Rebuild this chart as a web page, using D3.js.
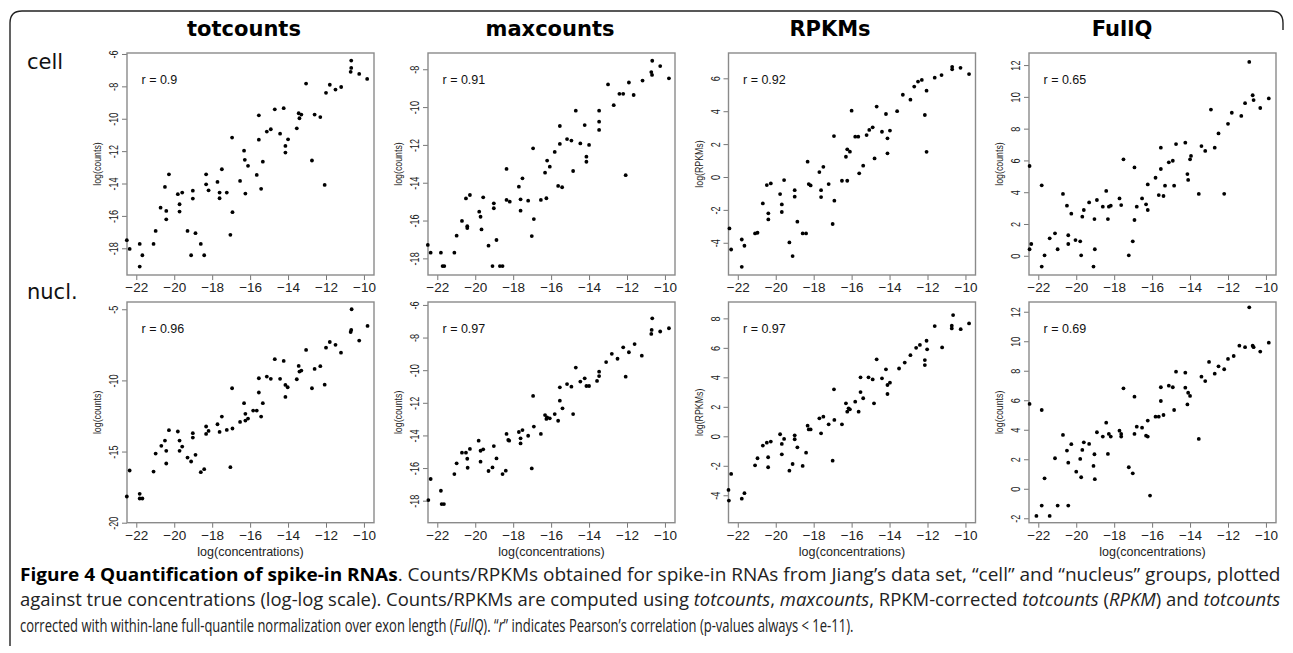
<!DOCTYPE html>
<html>
<head>
<meta charset="utf-8">
<script src="https://cdn.jsdelivr.net/npm/d3@7"></script>
<style>
  body { margin: 0; background: #fff; }
  svg { display: block; }
</style>
</head>
<body>
<svg width="1293" height="653"></svg>
<script>
// column titles, row names, r values
const titles = ["totcounts", "maxcounts", "RPKMs", "FullQ"];
const rowNames = ["cell", "nucl."];
const rValues = [[0.9, 0.91, 0.92, 0.65], [0.96, 0.97, 0.97, 0.69]];
const yLabels = ["log(counts)", "log(counts)", "log(RPKMs)", "log(counts)"];
const xTicks = [-22, -20, -18, -16, -14, -12, -10];

// y tick values per panel (row 1 then row 2)
const yTicksCell = [
  [-18, -16, -14, -12, -10, -8, -6],
  [-18, -16, -14, -12, -10, -8],
  [-4, -2, 0, 2, 4, 6],
  [0, 2, 4, 6, 8, 10, 12]
];
const yTicksNucl = [
  [-20, -15, -10, -5],
  [-18, -16, -14, -12, -10, -8, -6],
  [-4, -2, 0, 2, 4, 6, 8],
  [-2, 0, 2, 4, 6, 8, 10, 12]
];
const yRangeCell = [[-19.65, -5.94], [-18.88, -7.14], [-5.96, 7.54], [-1.21, 12.76]];
const yRangeNucl = [[-20.0, -4.49], [-19.35, -5.82], [-5.86, 9.11], [-2.3, 12.66]];
const xRange = [-22.49, -9.47];

// points: [log(concentration), value]
const cellTot = [[-22.5,-17.5],[-22.35,-18.04],[-21.82,-17.73],[-21.68,-18.43],[-21.82,-19.13],[-21.09,-17.73],[-20.98,-16.93],[-20.72,-15.49],[-20.49,-14.21],[-20.42,-15.69],[-20.42,-16.21],[-20.28,-13.43],[-19.81,-14.66],[-19.72,-15.28],[-19.72,-15.73],[-19.58,-14.56],[-19.3,-16.93],[-19.11,-18.43],[-19.02,-14.44],[-19.02,-14.93],[-18.88,-17.07],[-18.6,-17.73],[-18.42,-18.43],[-18.32,-13.43],[-18.32,-14.05],[-18.19,-14.42],[-17.72,-13.9],[-17.61,-14.56],[-17.61,-14.91],[-17.49,-13.12],[-17.23,-14.56],[-17.04,-17.17],[-16.95,-11.16],[-16.93,-15.77],[-16.53,-13.84],[-16.32,-11.97],[-16.28,-12.54],[-16.25,-14.62],[-16.11,-12.91],[-15.65,-13.47],[-15.54,-9.79],[-15.54,-11.29],[-15.42,-14.33],[-15.33,-12.65],[-15.12,-10.79],[-14.91,-10.65],[-14.7,-9.42],[-14.42,-10.92],[-14.23,-9.35],[-14.14,-12.09],[-14.14,-11.68],[-14.0,-11.27],[-13.54,-10.59],[-13.44,-9.66],[-13.4,-9.97],[-13.3,-9.74],[-13.05,-7.83],[-12.74,-12.58],[-12.6,-9.74],[-12.3,-9.9],[-12.07,-14.09],[-12.0,-8.4],[-11.8,-7.9],[-11.5,-8.2],[-11.2,-8.04],[-10.67,-6.41],[-10.67,-6.86],[-10.7,-7.1],[-10.25,-7.23],[-9.83,-7.54]];
const cellMax = [[-22.5,-17.29],[-22.35,-17.7],[-21.81,-17.7],[-21.72,-18.41],[-21.63,-18.41],[-21.1,-17.7],[-20.98,-16.8],[-20.7,-16.02],[-20.49,-14.83],[-20.42,-16.4],[-20.42,-16.3],[-20.28,-14.65],[-19.79,-15.53],[-19.72,-15.8],[-19.67,-16.47],[-19.58,-14.77],[-19.3,-17.33],[-19.09,-18.41],[-18.7,-18.41],[-18.56,-18.41],[-19.02,-15.09],[-19.02,-15.35],[-18.88,-17.03],[-18.35,-13.27],[-18.35,-14.91],[-18.18,-15.0],[-17.7,-14.21],[-17.61,-14.88],[-17.61,-15.48],[-17.51,-13.77],[-17.21,-14.95],[-17.02,-16.82],[-16.95,-12.18],[-16.91,-15.92],[-16.54,-14.91],[-16.32,-13.47],[-16.25,-14.82],[-16.21,-12.83],[-16.07,-13.15],[-15.81,-12.37],[-15.63,-14.17],[-15.42,-14.24],[-15.54,-11.95],[-15.54,-11.0],[-15.16,-11.69],[-14.93,-11.77],[-14.84,-13.38],[-14.7,-10.19],[-14.46,-11.92],[-14.23,-10.95],[-14.14,-12.62],[-14.14,-12.89],[-14.0,-12.0],[-13.47,-10.19],[-13.47,-10.77],[-13.47,-11.21],[-13.0,-8.8],[-12.7,-9.9],[-12.4,-9.3],[-12.2,-9.3],[-12.07,-13.6],[-11.9,-8.7],[-11.65,-9.36],[-11.18,-8.6],[-10.72,-8.15],[-10.68,-8.3],[-10.67,-7.55],[-10.25,-7.83],[-9.79,-8.48]];
const cellRpkm = [[-22.44,-3.13],[-22.35,-4.41],[-21.79,-3.8],[-21.65,-4.18],[-21.79,-5.46],[-21.09,-3.43],[-20.96,-3.39],[-20.68,-1.61],[-20.47,-0.49],[-20.26,-0.39],[-20.39,-2.21],[-20.39,-2.58],[-19.77,-1.04],[-19.68,-1.67],[-19.68,-2.13],[-19.56,-0.19],[-19.28,-3.98],[-19.11,-4.81],[-19.0,-0.8],[-19.0,-1.2],[-18.86,-2.72],[-18.58,-3.43],[-18.4,-3.43],[-18.32,0.93],[-18.26,-0.43],[-18.16,-0.51],[-17.7,0.3],[-17.61,-0.8],[-17.61,-1.22],[-17.49,0.62],[-17.21,-0.43],[-17.0,-2.86],[-16.93,2.49],[-16.91,-1.44],[-16.51,-0.23],[-16.23,-0.23],[-16.3,1.23],[-16.23,1.68],[-16.09,1.54],[-15.81,2.45],[-15.65,2.45],[-15.6,0.22],[-16.0,4.03],[-15.39,0.69],[-15.21,2.55],[-15.07,2.86],[-14.89,3.02],[-14.68,4.28],[-14.79,1.13],[-14.4,2.75],[-14.19,3.83],[-14.11,2.35],[-14.11,1.44],[-13.98,2.82],[-13.6,4.0],[-13.3,5.0],[-12.9,4.7],[-12.7,5.5],[-12.5,5.8],[-12.3,5.9],[-12.14,3.77],[-12.05,5.25],[-12.05,1.53],[-11.62,6.04],[-11.26,6.2],[-10.7,6.7],[-10.7,6.55],[-10.26,6.64],[-9.81,6.26]];
const cellFullQ = [[-22.46,0.41],[-22.37,0.74],[-22.46,5.65],[-21.82,4.43],[-21.82,-0.68],[-21.67,0.03],[-21.4,1.1],[-21.12,1.41],[-20.98,0.41],[-20.7,3.89],[-20.49,3.15],[-20.42,1.29],[-20.42,0.74],[-20.26,2.65],[-20.04,0.99],[-19.79,0.91],[-19.74,0.03],[-19.68,2.46],[-19.6,2.88],[-19.32,3.36],[-19.09,-0.68],[-19.04,2.31],[-19.02,0.41],[-18.91,3.51],[-18.6,3.09],[-18.42,4.08],[-18.33,2.31],[-18.28,3.09],[-18.18,3.15],[-17.72,3.61],[-17.63,3.19],[-17.51,6.07],[-17.23,0.03],[-17.02,0.91],[-16.93,2.25],[-16.93,5.56],[-16.81,3.09],[-16.53,3.61],[-16.32,3.24],[-16.23,2.88],[-16.23,4.49],[-15.82,4.91],[-15.65,3.82],[-15.54,6.8],[-15.54,5.46],[-15.4,3.76],[-15.32,4.41],[-15.12,5.88],[-14.91,5.98],[-14.74,7.03],[-14.84,4.41],[-14.25,7.12],[-13.95,6.28],[-14.14,5.14],[-14.1,4.77],[-14.0,6.07],[-13.54,3.89],[-13.4,6.9],[-13.2,6.6],[-12.9,9.2],[-12.7,6.8],[-12.5,7.7],[-12.2,3.9],[-12.0,8.3],[-11.8,9.0],[-11.3,8.8],[-11.1,9.6],[-10.88,12.2],[-10.7,10.1],[-10.65,9.8],[-10.3,9.3],[-9.85,9.9]];
const nuclTot = [[-22.5,-18.16],[-22.35,-16.33],[-21.82,-17.97],[-21.82,-18.3],[-21.68,-18.3],[-21.09,-16.41],[-20.98,-15.14],[-20.68,-14.6],[-20.49,-14.23],[-20.42,-14.95],[-20.42,-15.84],[-20.28,-13.5],[-19.81,-13.59],[-19.72,-14.23],[-19.72,-14.95],[-19.58,-14.65],[-19.3,-15.42],[-19.11,-15.7],[-19.02,-13.71],[-19.02,-14.02],[-18.88,-15.23],[-18.6,-16.45],[-18.42,-16.24],[-18.32,-13.24],[-18.32,-13.76],[-18.19,-13.55],[-17.72,-13.08],[-17.61,-13.62],[-17.49,-12.54],[-17.23,-13.48],[-17.04,-16.1],[-16.95,-10.55],[-16.93,-13.38],[-16.53,-12.92],[-16.32,-11.6],[-16.25,-12.35],[-16.25,-12.82],[-16.11,-12.68],[-15.84,-12.12],[-15.65,-12.12],[-15.54,-9.85],[-15.54,-10.85],[-15.42,-12.54],[-15.33,-11.6],[-15.12,-9.73],[-14.91,-9.89],[-14.7,-8.51],[-14.42,-9.89],[-14.23,-8.63],[-14.14,-10.32],[-14.02,-10.48],[-14.14,-11.16],[-13.54,-9.92],[-13.44,-8.98],[-13.4,-9.38],[-13.3,-9.31],[-13.05,-7.86],[-12.74,-10.55],[-12.6,-9.19],[-12.3,-9.0],[-12.07,-10.3],[-12.0,-7.7],[-11.8,-7.3],[-11.5,-7.5],[-11.21,-8.05],[-10.65,-5.0],[-10.67,-6.45],[-10.7,-6.6],[-10.25,-7.2],[-9.81,-6.17]];
const nuclMax = [[-22.47,-17.96],[-22.35,-16.67],[-21.81,-17.39],[-21.77,-18.21],[-21.65,-18.21],[-21.1,-16.37],[-20.98,-15.71],[-20.7,-15.06],[-20.49,-15.06],[-20.42,-15.43],[-20.4,-15.98],[-20.28,-14.83],[-19.82,-14.32],[-19.72,-14.94],[-19.58,-14.85],[-19.72,-15.61],[-19.3,-16.18],[-19.09,-15.96],[-19.02,-14.65],[-18.88,-15.41],[-18.56,-16.37],[-18.39,-16.16],[-18.35,-13.91],[-18.26,-14.28],[-18.21,-14.32],[-17.7,-13.79],[-17.61,-14.18],[-17.61,-14.49],[-17.51,-13.67],[-17.21,-14.02],[-17.02,-16.02],[-16.95,-11.58],[-16.91,-13.46],[-16.54,-13.91],[-16.32,-12.75],[-16.21,-12.89],[-16.25,-12.99],[-16.07,-12.95],[-15.81,-12.69],[-15.63,-13.1],[-15.54,-11.87],[-15.54,-11.05],[-15.4,-12.34],[-15.16,-10.85],[-14.93,-11.01],[-14.84,-12.69],[-14.7,-9.84],[-14.46,-10.7],[-14.23,-10.5],[-14.14,-10.97],[-14.0,-10.97],[-13.47,-10.09],[-13.47,-10.36],[-13.58,-10.66],[-13.1,-9.5],[-12.8,-9.0],[-12.5,-9.3],[-12.2,-8.6],[-12.07,-10.4],[-11.9,-8.9],[-11.6,-8.4],[-11.22,-9.11],[-10.67,-6.82],[-10.7,-7.53],[-10.72,-7.78],[-10.25,-7.63],[-9.79,-7.43]];
const nuclRpkm = [[-22.49,-3.64],[-22.47,-4.36],[-22.35,-2.55],[-21.79,-4.23],[-21.65,-3.86],[-21.09,-1.97],[-20.96,-1.49],[-20.68,-0.63],[-20.47,-0.43],[-20.26,-0.36],[-20.4,-1.42],[-20.4,-2.1],[-19.77,0.14],[-19.68,-0.52],[-19.68,-1.22],[-19.56,-0.18],[-19.28,-2.33],[-19.11,-1.88],[-19.0,0.07],[-19.0,-0.2],[-18.86,-0.75],[-18.58,-2.01],[-18.4,-1.11],[-18.32,0.72],[-18.26,0.47],[-18.16,0.47],[-17.7,1.22],[-17.61,0.2],[-17.49,1.33],[-17.21,0.81],[-17.0,-1.65],[-16.93,3.19],[-16.91,1.11],[-16.51,0.81],[-16.3,2.24],[-16.23,1.67],[-16.16,1.9],[-16.09,1.83],[-15.81,2.35],[-15.63,1.67],[-15.53,3.0],[-15.53,4.0],[-15.39,2.58],[-15.11,4.0],[-14.89,3.86],[-14.82,2.24],[-14.68,5.22],[-14.4,3.93],[-14.19,4.54],[-14.11,3.48],[-14.11,2.87],[-13.98,3.64],[-13.5,4.6],[-13.2,5.0],[-12.9,5.5],[-12.6,6.0],[-12.4,6.2],[-12.14,5.17],[-12.14,4.83],[-12.05,6.48],[-12.02,5.9],[-11.62,7.48],[-11.23,6.03],[-10.65,8.22],[-10.72,7.5],[-10.72,7.32],[-10.25,7.27],[-9.81,7.66]];
const nuclFullQ = [[-22.46,5.75],[-22.1,-1.84],[-21.82,5.34],[-21.82,-1.14],[-21.67,0.71],[-21.4,-1.84],[-21.12,2.07],[-20.98,-1.14],[-20.7,3.65],[-20.49,2.59],[-20.42,1.77],[-20.42,-1.14],[-20.26,3.02],[-20.0,1.16],[-19.79,2.02],[-19.74,0.78],[-19.68,2.63],[-19.6,3.15],[-19.32,3.04],[-19.09,1.55],[-19.04,2.34],[-19.02,0.65],[-18.91,3.83],[-18.6,3.54],[-18.42,4.48],[-18.33,2.36],[-18.28,3.72],[-18.18,3.54],[-17.72,3.94],[-17.63,3.54],[-17.63,3.72],[-17.51,6.81],[-17.23,1.46],[-17.02,1.05],[-16.93,6.24],[-16.93,3.72],[-16.81,4.21],[-16.53,4.14],[-16.32,3.6],[-16.23,3.54],[-16.23,4.62],[-16.11,-0.46],[-15.82,4.89],[-15.65,4.89],[-15.54,5.95],[-15.54,6.88],[-15.4,5.0],[-15.12,6.99],[-14.91,6.88],[-14.84,5.34],[-14.74,7.94],[-14.25,7.87],[-14.25,6.85],[-14.1,6.51],[-14.0,6.29],[-14.14,5.72],[-13.54,3.38],[-13.4,7.6],[-13.2,7.3],[-13.0,8.6],[-12.7,7.8],[-12.5,8.3],[-12.2,8.1],[-12.0,8.8],[-11.7,9.0],[-11.4,9.7],[-11.1,9.6],[-10.88,12.3],[-10.7,9.7],[-10.65,9.6],[-10.3,9.3],[-9.85,9.9]];

const rowData = [[cellTot, cellMax, cellRpkm, cellFullQ], [nuclTot, nuclMax, nuclRpkm, nuclFullQ]];
const rowTicks = [yTicksCell, yTicksNucl];
const rowRanges = [yRangeCell, yRangeNucl];

const svg = d3.select("svg");

// layout
const colLeft = [127, 428, 728.5, 1029];
const boxW = 247;
const rowTop = [53, 302];
const rowBottom = [275, 522.7];
const titleX = [244, 550, 830, 1122];

// outer frame
svg.append("path")
    .attr("d", "M10,646 V23 Q10,11 22,11 H1271 Q1283,11 1283,23 V30")
    .attr("fill", "none")
    .attr("stroke", "#222")
    .attr("stroke-width", 1.4)

titles.forEach((t, i) => {
  svg.append("text")
      .attr("x", titleX[i])
      .attr("y", 36)
      .attr("text-anchor", "middle")
      .style("font-family", "DejaVu Sans")
      .style("font-weight", "bold")
      .style("font-size", "21px")
      .text(t)
});

rowNames.forEach((t, r) => {
  svg.append("text")
      .attr("x", 27)
      .attr("y", [69, 299][r])
      .style("font-family", "DejaVu Sans")
      .style("font-size", "21px")
      .style("fill", "#111")
      .text(t)
});

rowData.forEach((row, r) => {
  row.forEach((pts, c) => {
    const x0 = colLeft[c];
    const y0 = rowTop[r];
    const y1 = rowBottom[r];

    const xScale = d3.scaleLinear().domain(xRange).range([x0, x0 + boxW]);
    const yScale = d3.scaleLinear().domain(rowRanges[r][c]).range([y1, y0]);

    const g = svg.append("g");

    // y axis, labels turned like R's default
    const yAxis = d3.axisLeft(yScale).tickValues(rowTicks[r][c]).tickSize(5).tickFormat(d => d);
    const ya = g.append("g")
        .attr("transform", `translate(${x0},0)`)
        .call(yAxis);
    ya.select(".domain").remove();
    ya.selectAll("line").attr("stroke", "#777");
    ya.selectAll("text")
        .attr("x", 0)
        .attr("y", -9)
        .attr("dy", 0)
        .attr("text-anchor", "middle")
        .attr("transform", "rotate(-90) scale(0.7,1)")
        .style("font-family", "Liberation Sans, Arial")
        .style("font-size", "13px")
        .style("fill", "#222");

    // x axis
    const xAxis = d3.axisBottom(xScale).tickValues(xTicks).tickSize(5).tickPadding(2.5);
    const xa = g.append("g")
        .attr("transform", `translate(0,${y1})`)
        .call(xAxis);
    xa.select(".domain").remove();
    xa.selectAll("line").attr("stroke", "#777");
    xa.selectAll("text")
        .style("font-family", "Liberation Sans, Arial")
        .style("font-size", "13.5px")
        .style("fill", "#222");

    // box
    g.append("rect")
        .attr("x", x0)
        .attr("y", y0)
        .attr("width", boxW)
        .attr("height", y1 - y0)
        .attr("fill", "none")
        .attr("stroke", "#8a8a8a")
        .attr("stroke-width", 1.4);

    // y label
    g.append("text")
        .attr("transform", `translate(${x0 - 26},${(y0 + y1) / 2}) rotate(-90) scale(0.8,1)`)
        .attr("text-anchor", "middle")
        .style("font-family", "Liberation Sans, Arial")
        .style("font-size", "11px")
        .style("fill", "#222")
        .text(yLabels[c]);

    if (r === 1) {
      g.append("text")
          .attr("x", x0 + boxW / 2)
          .attr("y", 556)
          .attr("text-anchor", "middle")
          .style("font-family", "Liberation Sans, Arial")
          .style("font-size", "12.5px")
          .style("fill", "#222")
          .text("log(concentrations)");
    }

    // r label
    g.append("text")
        .attr("x", x0 + 14.5)
        .attr("y", y0 + 31)
        .style("font-family", "Liberation Sans, Arial")
        .style("font-size", "12.5px")
        .style("fill", "#111")
        .text("r = " + rValues[r][c]);

    // points
    g.append("g")
        .selectAll("circle")
        .data(pts)
        .join("circle")
        .attr("cx", d => xScale(d[0]))
        .attr("cy", d => yScale(d[1]))
        .attr("r", 1.9)
        .attr("fill", "#000");
  });
});

// caption, three lines fitted to the widths seen in the figure
const captionLines = [
  [["Figure 4 Quantification of spike-in RNAs", "b"], [". Counts/RPKMs obtained for spike-in RNAs from Jiang\u2019s data set, \u201Ccell\u201D and \u201Cnucleus\u201D groups, plotted", ""]],
  [["against true concentrations (log-log scale). Counts/RPKMs are computed using ", ""], ["totcounts", "i"], [", ", ""], ["maxcounts", "i"], [", RPKM-corrected ", ""], ["totcounts", "i"], [" (", ""], ["RPKM", "i"], [") and ", ""], ["totcounts", "i"]],
  [["corrected with within-lane full-quantile normalization over exon length (", ""], ["FullQ", "i"], ["). \u201C", ""], ["r", "i"], ["\u201D indicates Pearson\u2019s correlation (p-values always < 1e-11).", ""]]
];
const captionWidth = [1261, 1261, 834];
const captionY = [581, 606, 632];

captionLines.forEach((parts, i) => {
  const t = svg.append("text")
      .style("font-family", "Open Sans")
      .style("font-size", "17.5px")
      .style("fill", "#222");
  parts.forEach(p => {
    t.append("tspan")
        .style("font-weight", p[1] === "b" ? "bold" : "normal")
        .style("font-style", p[1] === "i" ? "italic" : "normal")
        .style("fill", p[1] === "b" ? "#000" : "#222")
        .text(p[0]);
  });
  const len = t.node().getComputedTextLength();
  t.attr("transform", `translate(20,${captionY[i]}) scale(${captionWidth[i] / len},1)`);
});
</script>
</body>
</html>
